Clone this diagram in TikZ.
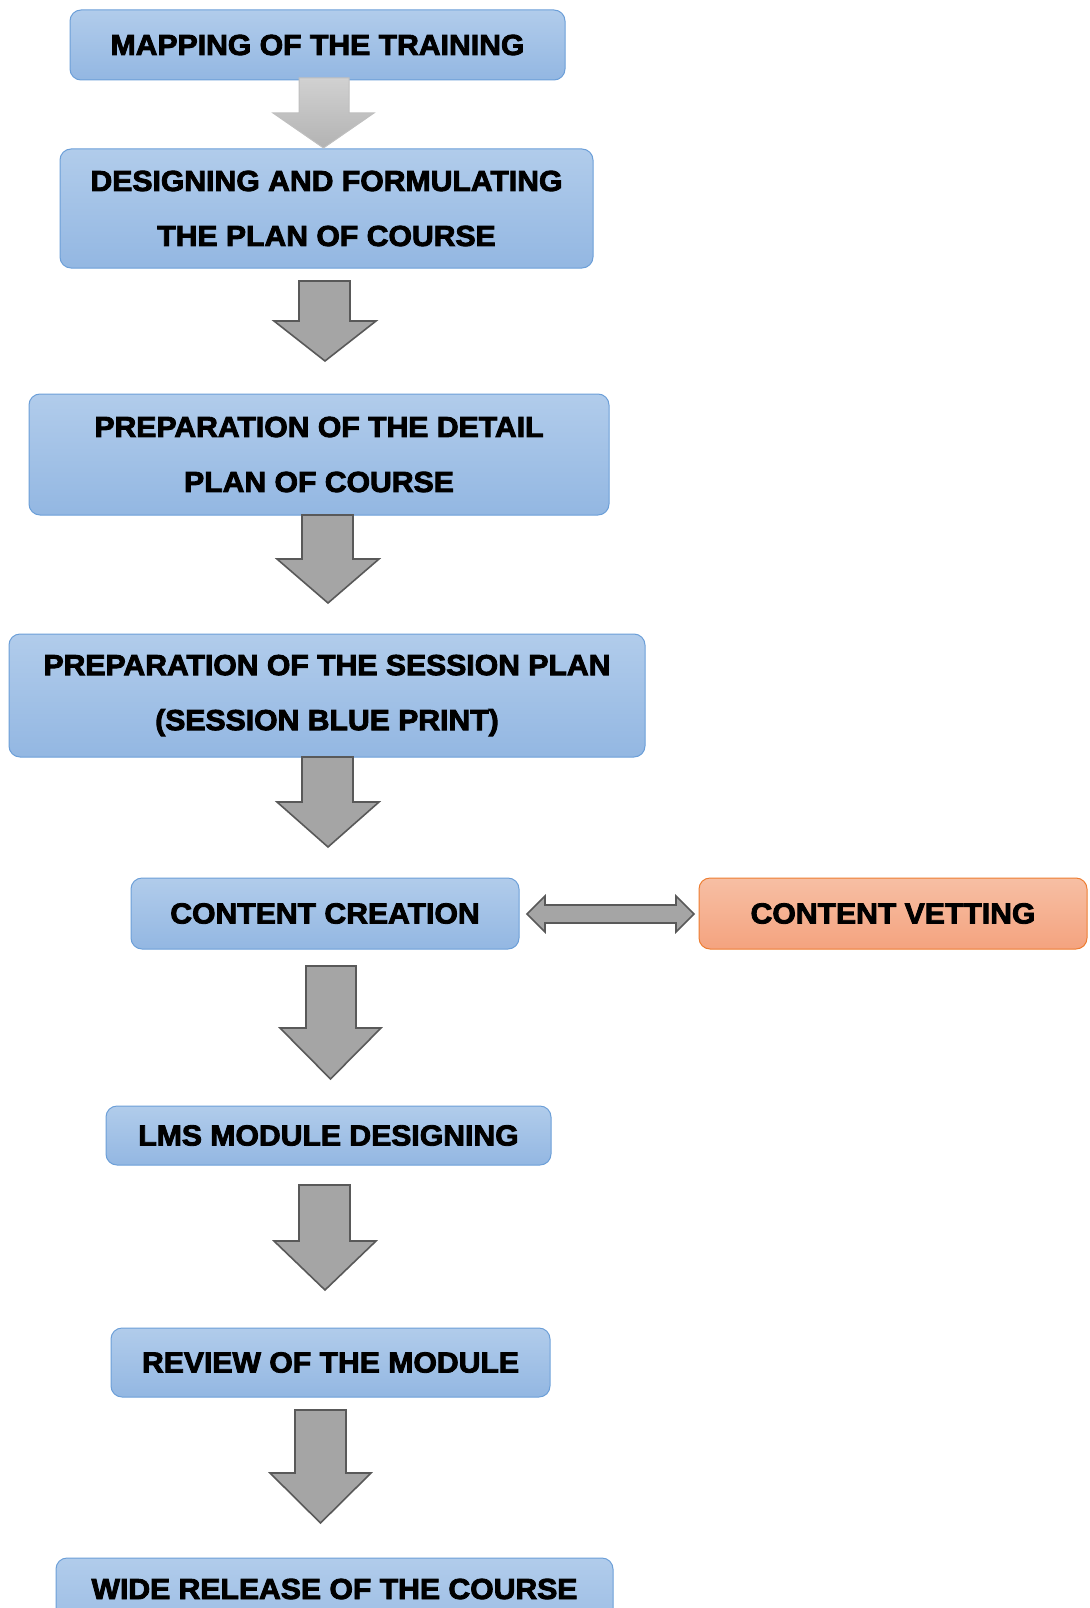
\documentclass[tikz,border=0pt]{standalone}
\usepackage{fontspec}
\newfontfamily\boxfont{Liberation Sans Bold}[FakeBold=3, FakeStretch=1.04]
\definecolor{bluetop}{HTML}{B1CCEB}
\definecolor{bluebot}{HTML}{93B7E2}
\definecolor{blueline}{HTML}{6C9FD8}
\definecolor{orgtop}{HTML}{F7BFA4}
\definecolor{orgbot}{HTML}{F4A37F}
\definecolor{orgline}{HTML}{ED7D31}
\definecolor{arrfill}{HTML}{A5A5A5}
\definecolor{arrline}{HTML}{595959}
\tikzset{
  flowbox/.style={draw=blueline, line width=1pt, rounded corners=11pt,
    top color=bluetop, bottom color=bluebot, inner sep=0pt, align=center,
    text=black, font=\boxfont\fontsize{29}{55}\selectfont},
  vetbox/.style={flowbox, draw=orgline, top color=orgtop, bottom color=orgbot},
  blockarrow/.style={draw=arrline, line width=1.6pt, fill=arrfill, line join=miter},
  lightarrow/.style={draw=black!25, line width=1pt, top color=black!18, bottom color=black!30, line join=miter}
}
% #2 shaft left, #3 shaft right, #4 head left, #5 head right, #6 top, #7 head start, #8 tip
\newcommand{\blockdown}[8][blockarrow]{%
  \path[#1] (#2,#6) -- (#2,#7) -- (#4,#7) -- ({(#4+#5)/2},#8) -- (#5,#7) -- (#3,#7) -- (#3,#6) -- cycle;}
\begin{document}
\begin{tikzpicture}[x=1pt,y=-1pt]
\useasboundingbox (0,0) rectangle (1089,1608);
\clip (0,0) rectangle (1089,1608);

\node[flowbox, minimum width=495, minimum height=70] (map) at (317.5,45) {MAPPING OF THE TRAINING};
\node[flowbox, minimum width=533, minimum height=119] (des) at (326.5,208.5) {DESIGNING AND FORMULATING\\THE PLAN OF COURSE};
\node[flowbox, minimum width=580, minimum height=121] (det) at (319,454.5) {PREPARATION OF THE DETAIL\\PLAN OF COURSE};
\node[flowbox, minimum width=636, minimum height=123] (ses) at (327,695.5) {PREPARATION OF THE SESSION PLAN\\(SESSION BLUE PRINT)};
\node[flowbox, minimum width=388, minimum height=71] (cre) at (325,913.5) {CONTENT CREATION};
\node[vetbox, minimum width=388, minimum height=71] (vet) at (893,913.5) {CONTENT VETTING};
\node[flowbox, minimum width=445, minimum height=59] (lms) at (328.5,1135.5) {LMS MODULE DESIGNING};
\node[flowbox, minimum width=439, minimum height=69] (rev) at (330.5,1362.5) {REVIEW OF THE MODULE};
\node[flowbox, minimum width=557, minimum height=100] (wide) at (334.5,1608) {};
\node[font=\boxfont\fontsize{29}{55}\selectfont, inner sep=0pt] (widet) at (334.5,1589) {WIDE RELEASE OF THE COURSE};

% down arrows
\blockdown[lightarrow]{299}{349}{273}{374}{78}{113}{148}
\blockdown{299}{350}{274}{376}{281}{321}{361}
\blockdown{302}{353}{277}{379}{515}{559}{603}
\blockdown{302}{353}{277}{379}{757}{802}{847}
\blockdown{306}{356}{280}{381}{966}{1028}{1079}
\blockdown{299}{350}{274}{376}{1185}{1241}{1290}
\blockdown{295}{346}{270}{371}{1410}{1473}{1523}

% double arrow between creation and vetting
\path[blockarrow] (527,914) -- (545,896) -- (545,905) -- (676,905) -- (676,896) -- (694,914)
  -- (676,932) -- (676,923) -- (545,923) -- (545,932) -- cycle;
\end{tikzpicture}
\end{document}
